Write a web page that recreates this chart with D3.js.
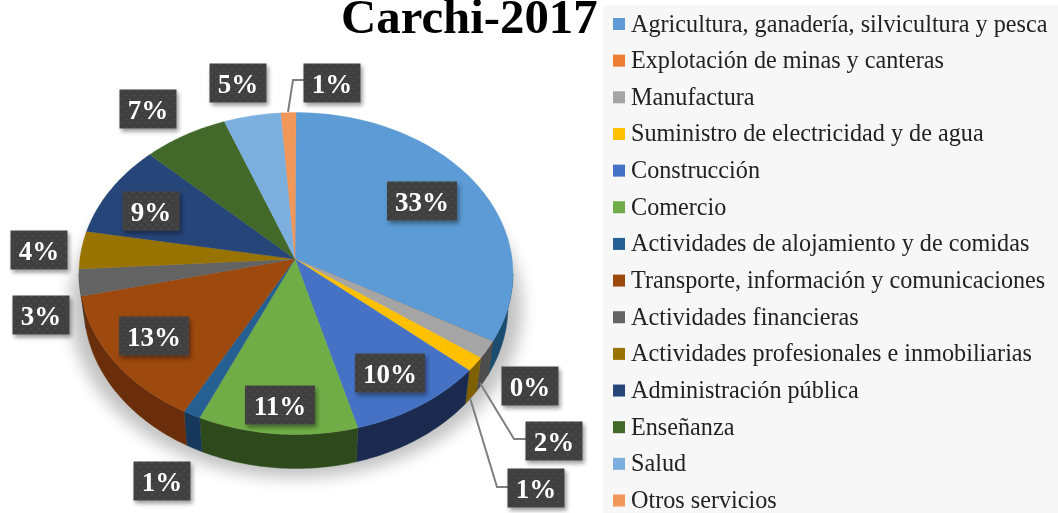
<!DOCTYPE html>
<html><head><meta charset="utf-8">
<script src="https://cdn.jsdelivr.net/npm/d3@7"></script>
<style>html,body{margin:0;padding:0;background:#fff;overflow:hidden}svg{display:block}</style>
</head><body><div id="c"></div>
<script>
const title = "Carchi-2017";
const categories = ["Agricultura, ganadería, silvicultura y pesca","Explotación de minas y canteras","Manufactura","Suministro de electricidad y de agua","Construcción","Comercio","Actividades de alojamiento y de comidas","Transporte, información y comunicaciones","Actividades financieras","Actividades profesionales e inmobiliarias","Administración pública","Enseñanza","Salud","Otros servicios"];
// slice sizes
const shares = [31.9,0.02,1.8,1.5,10.1,11.9,1.3,14.1,2.7,3.75,9.0,6.4,4.25,1.1];
const percentLabels = ["33%","0%","2%","1%","10%","11%","1%","13%","3%","4%","9%","7%","5%","1%"];
const legendColors = ["#5b9bd5","#ed7d31","#a5a5a5","#ffc000","#4472c4","#70ad47","#255e91","#9e480e","#636363","#997300","#264478","#43682b","#7cafdd","#f1975a"];
const topColors = ["#5b9bd5","#ed7d31","#a5a5a5","#ffc000","#4472c4","#70ad47","#255e91","#9e480e","#636363","#997300","#264478","#43682b","#7cafdd","#f1975a"];
const wallColors = ["#1f4e70","#7a3d12","#4e4e4e","#7f6000","#1a2c50","#2f4a1c","#14395a","#6b2f07","#333333","#4d3a00","#13223c","#223416","#3e5870","#784b2d"];
const labelCenters = [[422,201],[530,386],[554,441],[536,488],[390,373],[280,405],[162,481],[154,336],[41,315],[39,250],[151,211],[148,109],[238,83],[332,83]];
const leaders = [
  [[480,383],[514,439],[526,439]],
  [[470,398],[497,487],[508,487]],
  [[288,112],[293,80],[304,80]]
];

const W=1058,H=513;
const svg=d3.select("#c").append("svg").attr("width",W).attr("height",H).attr("viewBox",[0,0,W,H]);
const defs=svg.append("defs");
defs.append("filter").attr("id","soft").attr("x","-5%").attr("y","-5%").attr("width","110%").attr("height","110%")
  .append("feGaussianBlur").attr("stdDeviation",0.6);
defs.append("filter").attr("id","pieShadow").attr("x","-20%").attr("y","-20%").attr("width","140%").attr("height","140%")
  .append("feGaussianBlur").attr("stdDeviation",8);
const ds=defs.append("filter").attr("id","boxShadow").attr("x","-30%").attr("y","-30%").attr("width","170%").attr("height","170%");
ds.append("feDropShadow").attr("dx",2).attr("dy",3).attr("stdDeviation",2.2).attr("flood-color","#000").attr("flood-opacity",.4);
const pat=defs.append("pattern").attr("id","dots").attr("patternUnits","userSpaceOnUse").attr("width",8).attr("height",8);
pat.append("rect").attr("width",8).attr("height",8).attr("fill","#404040");
pat.append("circle").attr("cx",2).attr("cy",2).attr("r",.8).attr("fill","#555");
pat.append("circle").attr("cx",6).attr("cy",6).attr("r",.8).attr("fill","#555");

const root=svg.append("g").attr("filter","url(#soft)");

// legend
const legendY=d3.scalePoint().domain(categories).range([24,500.5]);
root.append("rect").attr("x",603).attr("y",5).attr("width",455).attr("height",508).attr("fill","#f7f7f7");
const lg=root.append("g").selectAll("g").data(categories).join("g").attr("transform",d=>`translate(0,${legendY(d)})`);
lg.append("rect").attr("x",613).attr("y",-6).attr("width",12).attr("height",12).attr("fill",(d,i)=>legendColors[i]);
lg.append("text").attr("x",631).attr("y",7.5).attr("font-family","'Liberation Serif',serif").attr("font-size",24.2).attr("fill","#222").text(d=>d);

// title
root.append("text").attr("x",341).attr("y",33).attr("font-family","'Liberation Serif',serif").attr("font-weight",700).attr("font-size",48.8).attr("fill","#000").text(title);

// pie geometry
const pie=d3.pie().sort(null).value(d=>d)(shares);
const topX=d3.scaleLinear().domain([-1,1]).range([79,513]);
const topY=d3.scaleLinear().domain([-1,1]).range([112.5,434.5]);
const botX=d3.scaleLinear().domain([-1,1]).range([84,508]);
const botY=d3.scaleLinear().domain([-1,1]).range([144,468.5]);
const apex=[295,259];
const onTop=a=>[topX(Math.sin(a)),topY(-Math.cos(a))];
const onBot=a=>[botX(Math.sin(a)),botY(-Math.cos(a))];
const samples=(a0,a1)=>d3.range(0,41).map(k=>a0+(a1-a0)*k/40);
const line=d3.line();

root.append("ellipse").attr("cx",296).attr("cy",308).attr("rx",226).attr("ry",170).attr("fill","#000").attr("opacity",.24).attr("filter","url(#pieShadow)");

// side walls (lower half only)
root.append("g").selectAll("path").data(pie.filter(d=>d.endAngle>Math.PI/2&&d.startAngle<1.5*Math.PI)).join("path")
  .attr("d",d=>{
    const a0=Math.max(d.startAngle,Math.PI/2),a1=Math.min(d.endAngle,1.5*Math.PI),s=samples(a0,a1);
    return line([...s.map(onTop),...s.slice().reverse().map(onBot)])+"Z";
  })
  .attr("fill",d=>wallColors[d.index]).attr("stroke",d=>wallColors[d.index]).attr("stroke-width",.4);

// top surface
root.append("g").selectAll("path").data(pie).join("path")
  .attr("d",d=>line([apex,...samples(d.startAngle,d.endAngle).map(onTop)])+"Z")
  .attr("fill",d=>topColors[d.index]).attr("stroke",d=>topColors[d.index]).attr("stroke-width",.3);

// leader lines
root.append("g").selectAll("path").data(leaders).join("path").attr("d",d=>line(d))
  .attr("fill","none").attr("stroke","#7f7f7f").attr("stroke-width",2);

// data labels
const boxH=39, boxW=s=>s.length>2?70:57;
const lab=root.append("g").selectAll("g").data(percentLabels).join("g").attr("transform",(d,i)=>`translate(${labelCenters[i]})`);
lab.append("rect").attr("x",d=>-boxW(d)/2).attr("y",-boxH/2).attr("width",boxW).attr("height",boxH).attr("fill","url(#dots)").attr("filter","url(#boxShadow)");
lab.append("text").attr("text-anchor","middle").attr("y",9.5).attr("font-family","'Liberation Serif',serif").attr("font-weight",700).attr("font-size",27).attr("fill","#fff").text(d=>d);
</script></body></html>
